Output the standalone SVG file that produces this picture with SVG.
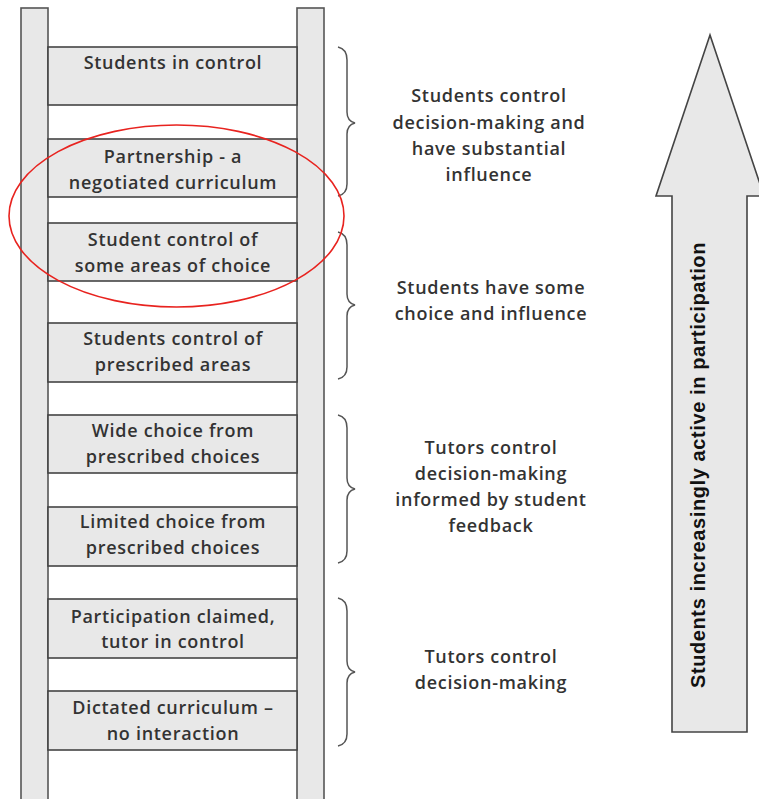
<svg xmlns="http://www.w3.org/2000/svg" width="759" height="799" viewBox="0 0 759 799">
<style>
.rail{fill:#e8e8e8;stroke:#555;stroke-width:1.6}
.rung{fill:#e8e8e8;stroke:#444;stroke-width:1.6}
.t{font-family:"Open Sans","Liberation Sans",sans-serif;font-weight:600;font-size:18px;letter-spacing:0.7px;fill:#333;text-anchor:middle}
.brace{fill:none;stroke:#555;stroke-width:1.5}
.arrow{fill:#e8e8e8;stroke:#444;stroke-width:1.6}
.vt{font-family:"Liberation Sans",Arial,sans-serif;font-weight:bold;font-size:20px;letter-spacing:0.6px;fill:#111;text-anchor:middle}
</style>
<rect width="759" height="799" fill="#fff"/>
<g id="ladder">
<rect class="rail" x="21" y="8" width="27" height="800"/>
<rect class="rail" x="297" y="8" width="27" height="800"/>
</g>
<g id="rung1"><rect class="rung" x="48" y="47" width="249" height="58"/><text class="t" x="173" y="69">Students in control</text></g>
<g id="rung2"><rect class="rung" x="48" y="139" width="249" height="58"/><text class="t" x="173" y="163">Partnership - a</text><text class="t" x="173" y="189">negotiated curriculum</text></g>
<g id="rung3"><rect class="rung" x="48" y="223" width="249" height="58"/><text class="t" x="173" y="246">Student control of</text><text class="t" x="173" y="272">some areas of choice</text></g>
<g id="rung4"><rect class="rung" x="48" y="323" width="249" height="59"/><text class="t" x="173" y="345">Students control of</text><text class="t" x="173" y="371">prescribed areas</text></g>
<g id="rung5"><rect class="rung" x="48" y="415" width="249" height="58"/><text class="t" x="173" y="437">Wide choice from</text><text class="t" x="173" y="463">prescribed choices</text></g>
<g id="rung6"><rect class="rung" x="48" y="507" width="249" height="59"/><text class="t" x="173" y="528">Limited choice from</text><text class="t" x="173" y="554">prescribed choices</text></g>
<g id="rung7"><rect class="rung" x="48" y="599" width="249" height="59"/><text class="t" x="173" y="623">Participation claimed,</text><text class="t" x="173" y="648">tutor in control</text></g>
<g id="rung8"><rect class="rung" x="48" y="691" width="249" height="59"/><text class="t" x="173" y="714">Dictated curriculum –</text><text class="t" x="173" y="740">no interaction</text></g>
<g id="braces">
<path class="brace" d="M338,47 Q347,49 347,60 L347,112 Q347,121 355,123 Q347,125 347,134 L347,184 Q347,194 338,196"/>
<path class="brace" d="M338,232 Q347,234 347,245 L347,294 Q347,303 355,305 Q347,307 347,316 L347,367 Q347,377 338,379"/>
<path class="brace" d="M338,415 Q347,417 347,428 L347,478 Q347,487 355,489 Q347,491 347,500 L347,551 Q347,561 338,563"/>
<path class="brace" d="M338,598 Q347,600 347,611 L347,661 Q347,670 355,672 Q347,674 347,683 L347,734 Q347,744 338,746"/>
</g>
<g id="label1"><text class="t" x="489" y="102">Students control</text><text class="t" x="489" y="129">decision-making and</text><text class="t" x="489" y="155">have substantial</text><text class="t" x="489" y="181">influence</text></g>
<g id="label2"><text class="t" x="491" y="294">Students have some</text><text class="t" x="491" y="320">choice and influence</text></g>
<g id="label3"><text class="t" x="491" y="454">Tutors control</text><text class="t" x="491" y="480">decision-making</text><text class="t" x="491" y="506">informed by student</text><text class="t" x="491" y="532">feedback</text></g>
<g id="label4"><text class="t" x="491" y="663">Tutors control</text><text class="t" x="491" y="689">decision-making</text></g>
<g id="arrow">
<path class="arrow" d="M672,196 L672,732 L747,732 L747,196 L764,196 L710,35 L656,196 Z"/>
<text class="vt" transform="translate(705,465) rotate(-90)">Students increasingly active in participation</text>
</g>
<ellipse cx="176.5" cy="216" rx="167.5" ry="91" fill="none" stroke="#e8231f" stroke-width="1.6"/>
</svg>
